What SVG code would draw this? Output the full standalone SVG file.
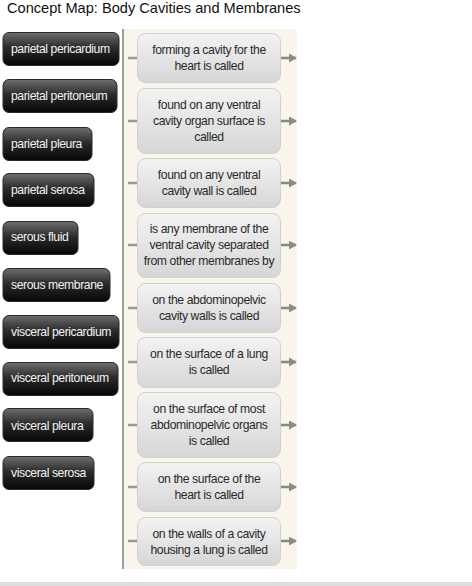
<svg xmlns="http://www.w3.org/2000/svg" width="472" height="586" viewBox="0 0 472 586">
<defs>
<linearGradient id="gBlack" x1="0" y1="0" x2="0" y2="1">
<stop offset="0" stop-color="#6e6e6e"/>
<stop offset="0.45" stop-color="#2c2c2c"/>
<stop offset="1" stop-color="#050505"/>
</linearGradient>
<linearGradient id="gGray" x1="0" y1="0" x2="0" y2="1">
<stop offset="0" stop-color="#f3f3f3"/>
<stop offset="1" stop-color="#d6d6d6"/>
</linearGradient>
<marker id="arr" viewBox="0 0 8 9" refX="7" refY="4.5" markerWidth="8" markerHeight="9" markerUnits="userSpaceOnUse" orient="auto">
<path d="M0,0 L8,4.5 L0,9 Z" fill="#8a8a8a"/>
</marker>
</defs>
<style>
.title{font-family:"Liberation Sans",Arial,sans-serif;font-size:14.6px;fill:#111}
.term rect{fill:url(#gBlack);stroke:#2a2a2a;stroke-width:1}
.term text{font-family:"Liberation Sans",Arial,sans-serif;font-size:12.2px;letter-spacing:-0.42px;fill:#f2f2f2}
.phr rect{fill:url(#gGray);stroke:#d0d0d0;stroke-width:1}
.phr text{font-family:"Liberation Sans",Arial,sans-serif;font-size:12.2px;letter-spacing:-0.4px;fill:#2a2a2a;text-anchor:middle}
.stub{stroke:#999;stroke-width:2.5}
.out{stroke:#8a8a8a;stroke-width:2.5;marker-end:url(#arr)}
</style>
<rect width="472" height="586" fill="#fff"/>
<text class="title" x="7" y="13">Concept Map: Body Cavities and Membranes</text>
<rect x="124" y="29" width="173" height="540" fill="#faf5ec"/>
<line x1="123" y1="29" x2="123" y2="569" stroke="#7a7a7a" stroke-width="1.5"/>
<rect x="0" y="582" width="472" height="4" fill="#dddddd"/>

<g id="t1" class="term"><rect x="3" y="32.5" width="116" height="33" rx="6"/><text x="11" y="53">parietal pericardium</text></g>
<g id="t2" class="term"><rect x="3" y="79.5" width="114" height="33" rx="6"/><text x="11" y="100">parietal peritoneum</text></g>
<g id="t3" class="term"><rect x="3" y="127.5" width="89" height="33" rx="6"/><text x="11" y="148">parietal pleura</text></g>
<g id="t4" class="term"><rect x="3" y="173.5" width="91" height="33" rx="6"/><text x="11" y="194">parietal serosa</text></g>
<g id="t5" class="term"><rect x="3" y="221.5" width="75" height="33" rx="6"/><text x="11" y="241">serous fluid</text></g>
<g id="t6" class="term"><rect x="3" y="268.5" width="107" height="33" rx="6"/><text x="11" y="289">serous membrane</text></g>
<g id="t7" class="term"><rect x="3" y="315.5" width="116" height="33" rx="6"/><text x="11" y="336">visceral pericardium</text></g>
<g id="t8" class="term"><rect x="3" y="362.5" width="115" height="33" rx="6"/><text x="11" y="382">visceral peritoneum</text></g>
<g id="t9" class="term"><rect x="3" y="408.5" width="90" height="33" rx="6"/><text x="11" y="430">visceral pleura</text></g>
<g id="t10" class="term"><rect x="3" y="456.5" width="91" height="33" rx="6"/><text x="11" y="477">visceral serosa</text></g>

<g id="p1" class="phr"><rect x="137.5" y="33.5" width="143" height="49" rx="8"/><text x="209" y="54">forming a cavity for the</text><text x="209" y="70">heart is called</text></g>
<g id="p2" class="phr"><rect x="137.5" y="88.5" width="143" height="65" rx="8"/><text x="209" y="109">found on any ventral</text><text x="209" y="125">cavity organ surface is</text><text x="209" y="141">called</text></g>
<g id="p3" class="phr"><rect x="137.5" y="158.5" width="143" height="49" rx="8"/><text x="209" y="179">found on any ventral</text><text x="209" y="195">cavity wall is called</text></g>
<g id="p4" class="phr"><rect x="137.5" y="213.5" width="143" height="64" rx="8"/><text x="209" y="233">is any membrane of the</text><text x="209" y="249">ventral cavity separated</text><text x="209" y="265">from other membranes by</text></g>
<g id="p5" class="phr"><rect x="137.5" y="283.5" width="143" height="49" rx="8"/><text x="209" y="304">on the abdominopelvic</text><text x="209" y="320">cavity walls is called</text></g>
<g id="p6" class="phr"><rect x="137.5" y="337.5" width="143" height="50" rx="8"/><text x="209" y="358">on the surface of a lung</text><text x="209" y="374">is called</text></g>
<g id="p7" class="phr"><rect x="137.5" y="392.5" width="143" height="65" rx="8"/><text x="209" y="413">on the surface of most</text><text x="209" y="429">abdominopelvic organs</text><text x="209" y="445">is called</text></g>
<g id="p8" class="phr"><rect x="137.5" y="462.5" width="143" height="49" rx="8"/><text x="209" y="483">on the surface of the</text><text x="209" y="499">heart is called</text></g>
<g id="p9" class="phr"><rect x="137.5" y="517.5" width="143" height="48" rx="8"/><text x="209" y="538">on the walls of a cavity</text><text x="209" y="554">housing a lung is called</text></g>

<g id="connectors">
<line class="stub" x1="128" y1="58" x2="137" y2="58"/><line class="out" x1="281" y1="58" x2="296" y2="58"/>
<line class="stub" x1="128" y1="121" x2="137" y2="121"/><line class="out" x1="281" y1="121" x2="296" y2="121"/>
<line class="stub" x1="128" y1="183" x2="137" y2="183"/><line class="out" x1="281" y1="183" x2="296" y2="183"/>
<line class="stub" x1="128" y1="245" x2="137" y2="245"/><line class="out" x1="281" y1="245" x2="296" y2="245"/>
<line class="stub" x1="128" y1="308" x2="137" y2="308"/><line class="out" x1="281" y1="308" x2="296" y2="308"/>
<line class="stub" x1="128" y1="362" x2="137" y2="362"/><line class="out" x1="281" y1="362" x2="296" y2="362"/>
<line class="stub" x1="128" y1="425" x2="137" y2="425"/><line class="out" x1="281" y1="425" x2="296" y2="425"/>
<line class="stub" x1="128" y1="487" x2="137" y2="487"/><line class="out" x1="281" y1="487" x2="296" y2="487"/>
<line class="stub" x1="128" y1="541" x2="137" y2="541"/><line class="out" x1="281" y1="541" x2="296" y2="541"/>
</g>
</svg>
